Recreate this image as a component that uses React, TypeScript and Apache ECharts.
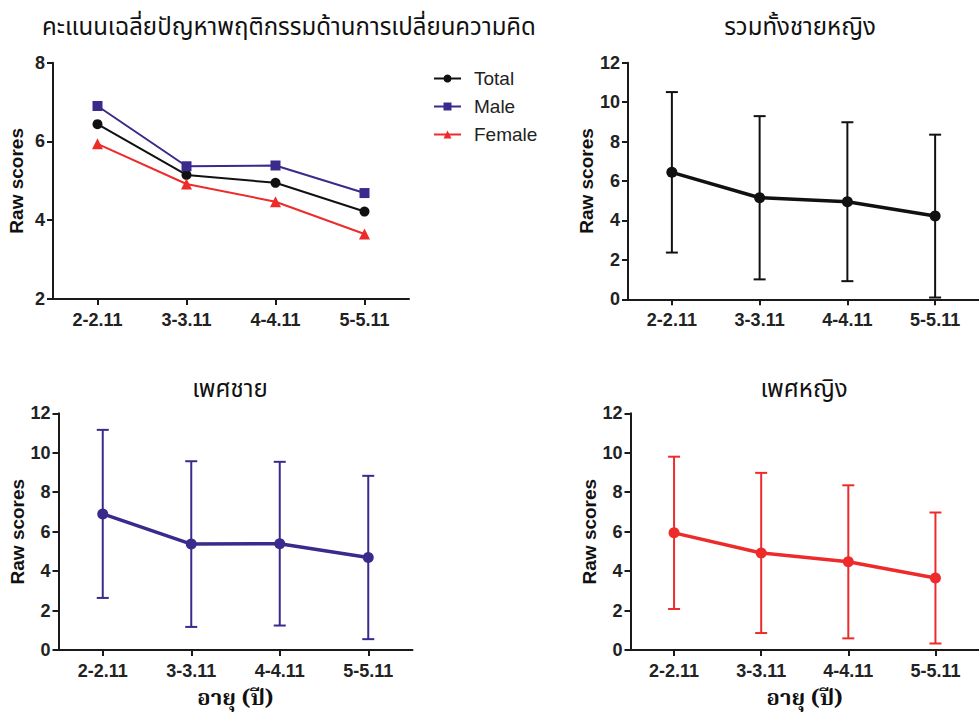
import React, { useEffect, useRef } from "react";
import * as echarts from "echarts";

const categories = ["2-2.11", "3-3.11", "4-4.11", "5-5.11"];
const totalMean = [6.44, 5.15, 4.95, 4.22];
const maleMean = [6.9, 5.37, 5.39, 4.69];
const femaleMean = [5.94, 4.92, 4.47, 3.65];
const totalSD = [4.07, 4.14, 4.03, 4.13];
const maleSD = [4.26, 4.2, 4.15, 4.14];
const femaleSD = [3.86, 4.06, 3.88, 3.32];

const mainTitle = "คะแนนเฉลี่ยปัญหาพฤติกรรมด้านการเปลี่ยนความคิด";
const panelTitles = ["รวมทั้งชายหญิง", "เพศชาย", "เพศหญิง"];
const yName = "Raw scores";
const xName = "อายุ (ปี)";
const legendNames = ["Total", "Male", "Female"];

const BLACK = "#111111";
const PURPLE = "#3a2a8c";
const RED = "#ee2b2b";
const AXIS = "#1a1a1a";
const LATIN = "'Liberation Sans', Arial, sans-serif";
const THAI = "'Noto Sans Thai', 'Noto Sans', 'DejaVu Sans', sans-serif";
const THAI_SERIF = "'Noto Serif Thai', 'DejaVu Serif', serif";

function errData(mean: number[], sd: number[]) {
  return mean.map((m, i) => [i, m - sd[i], m + sd[i]]);
}

function makeXAxis(gridIndex: number, withName: boolean) {
  return {
    type: "category",
    gridIndex,
    data: categories,
    boundaryGap: true,
    axisLine: { show: true, lineStyle: { color: AXIS, width: 2 } },
    axisTick: { show: true, alignWithLabel: true, length: 6, lineStyle: { color: AXIS, width: 2 } },
    axisLabel: { color: "#222", fontSize: 18, fontWeight: "bold", fontFamily: LATIN, margin: 12 },
    splitLine: { show: false },
    name: withName ? xName : "",
    nameLocation: "middle",
    nameGap: 38,
    nameTextStyle: { color: "#111", fontSize: 22, lineHeight: 22, fontWeight: "bold", fontFamily: THAI_SERIF },
  };
}

function makeYAxis(gridIndex: number, min: number, max: number) {
  return {
    type: "value",
    gridIndex,
    min,
    max,
    interval: 2,
    axisLine: { show: true, lineStyle: { color: AXIS, width: 2 } },
    axisTick: { show: true, length: 6, lineStyle: { color: AXIS, width: 2 } },
    axisLabel: { color: "#222", fontSize: 18, fontWeight: "bold", fontFamily: LATIN, margin: 8 },
    splitLine: { show: false },
    name: yName,
    nameLocation: "middle",
    nameRotate: 90,
    nameGap: 27,
    nameTextStyle: { color: "#111", fontSize: 19, fontWeight: "bold", fontFamily: LATIN },
  };
}

function errorSeries(name: string, idx: number, mean: number[], sd: number[], color: string) {
  return {
    type: "custom",
    name,
    xAxisIndex: idx,
    yAxisIndex: idx,
    data: errData(mean, sd),
    z: 1,
    renderItem: (params: any, api: any) => {
      const x = api.value(0);
      const lo = api.coord([x, api.value(1)]);
      const hi = api.coord([x, api.value(2)]);
      const cap = 6;
      const st = { stroke: color, lineWidth: 2 };
      return {
        type: "group",
        children: [
          { type: "line", shape: { x1: lo[0], y1: lo[1], x2: hi[0], y2: hi[1] }, style: st },
          { type: "line", shape: { x1: lo[0] - cap, y1: lo[1], x2: lo[0] + cap, y2: lo[1] }, style: st },
          { type: "line", shape: { x1: hi[0] - cap, y1: hi[1], x2: hi[0] + cap, y2: hi[1] }, style: st },
        ],
      };
    },
  };
}

function meanSeries(name: string, idx: number, mean: number[], color: string) {
  return {
    type: "line",
    name,
    xAxisIndex: idx,
    yAxisIndex: idx,
    data: mean,
    symbol: "circle",
    symbolSize: 11,
    z: 3,
    lineStyle: { color, width: 3.5 },
    itemStyle: { color },
  };
}

export default function App() {
  const ref = useRef<HTMLDivElement>(null);
  useEffect(() => {
    if (!ref.current) return;
    const chart = echarts.init(ref.current, undefined, { renderer: "svg" });
    const titleFont = `24px ${THAI}`;
    const option: any = {
      animation: false,
      backgroundColor: "#ffffff",
      grid: [
        { left: 53, top: 62.7, width: 356, height: 236.3 },
        { left: 628, top: 62.7, width: 354, height: 236.6 },
        { left: 58.5, top: 413.3, width: 354, height: 236.7 },
        { left: 630.5, top: 413.3, width: 355, height: 236.7 },
      ],
      xAxis: [makeXAxis(0, false), makeXAxis(1, false), makeXAxis(2, true), makeXAxis(3, true)],
      yAxis: [makeYAxis(0, 2, 8), makeYAxis(1, 0, 12), makeYAxis(2, 0, 12), makeYAxis(3, 0, 12)],
      legend: {
        data: legendNames,
        orient: "vertical",
        left: 428,
        top: 64,
        itemWidth: 27,
        itemHeight: 10,
        itemGap: 9,
        textStyle: { color: "#222", fontSize: 19, fontFamily: LATIN, lineHeight: 18, padding: [0, 0, 0, 8] },
      },
      graphic: [
        { type: "text", x: 289, y: 28, style: { text: mainTitle, textAlign: "center", textVerticalAlign: "middle", font: titleFont, fill: "#111" } },
        { type: "text", x: 800, y: 28, style: { text: panelTitles[0], textAlign: "center", textVerticalAlign: "middle", font: titleFont, fill: "#111" } },
        { type: "text", x: 230, y: 390, style: { text: panelTitles[1], textAlign: "center", textVerticalAlign: "middle", font: titleFont, fill: "#111" } },
        { type: "text", x: 804, y: 390, style: { text: panelTitles[2], textAlign: "center", textVerticalAlign: "middle", font: titleFont, fill: "#111" } },
      ],
      series: [
        {
          type: "line", name: "Total", xAxisIndex: 0, yAxisIndex: 0, data: totalMean,
          symbol: "circle", symbolSize: 10, lineStyle: { color: BLACK, width: 2 }, itemStyle: { color: BLACK },
        },
        {
          type: "line", name: "Male", xAxisIndex: 0, yAxisIndex: 0, data: maleMean,
          symbol: "rect", symbolSize: 10, lineStyle: { color: PURPLE, width: 2 }, itemStyle: { color: PURPLE },
        },
        {
          type: "line", name: "Female", xAxisIndex: 0, yAxisIndex: 0, data: femaleMean,
          symbol: "triangle", symbolSize: 11, lineStyle: { color: RED, width: 2 }, itemStyle: { color: RED },
        },
        errorSeries("Total SD", 1, totalMean, totalSD, BLACK),
        meanSeries("Total mean", 1, totalMean, BLACK),
        errorSeries("Male SD", 2, maleMean, maleSD, PURPLE),
        meanSeries("Male mean", 2, maleMean, PURPLE),
        errorSeries("Female SD", 3, femaleMean, femaleSD, RED),
        meanSeries("Female mean", 3, femaleMean, RED),
      ],
    };
    chart.setOption(option);
    return () => chart.dispose();
  }, []);
  return (
    <div
      ref={ref}
      style={{ position: "absolute", left: 0, top: 0, width: 979, height: 718, background: "#fff" }}
    />
  );
}
